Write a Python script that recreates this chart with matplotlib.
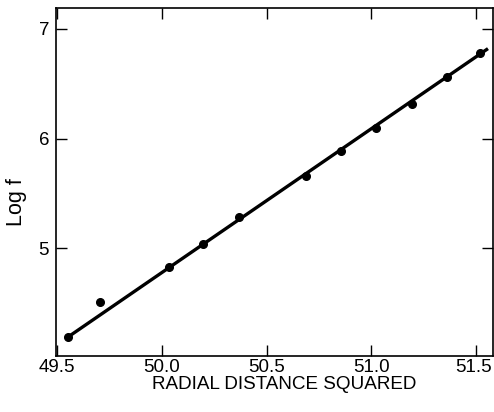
import matplotlib
matplotlib.use("Agg")
import matplotlib.pyplot as plt
from matplotlib.transforms import ScaledTranslation

# data
x_pts = [49.55, 49.705, 50.036, 50.198, 50.368, 50.687, 50.853, 51.024, 51.193, 51.359, 51.52]
y_pts = [4.19, 4.51, 4.83, 5.04, 5.29, 5.66, 5.89, 6.10, 6.32, 6.56, 6.78]
fit_x = [49.55, 51.556]
fit_y = [4.19, 6.82]
x_ticks = [49.5, 50.0, 50.5, 51.0, 51.5]
x_tick_labels = ["49.5", "50.0", "50.5", "51.0", "51.5"]
y_ticks = [5, 6, 7]
y_tick_labels = ["5", "6", "7"]

plt.rcParams['font.family'] = ['Liberation Sans', 'DejaVu Sans']

fig = plt.figure(figsize=(4.94, 4.12), dpi=100)
ax = fig.add_axes([56/494, 1 - 356/412, (493 - 56)/494, (356 - 8)/412])

ax.plot(fit_x, fit_y, color='black', linewidth=2.4, solid_capstyle='butt')
ax.plot(x_pts, y_pts, 'o', color='black', markersize=5.5)

ax.set_xlim(49.495, 51.58)
ax.set_ylim(4.02, 7.19)
ax.set_xticks(x_ticks)
ax.set_xticklabels(x_tick_labels)
ax.set_yticks(y_ticks)
ax.set_yticklabels(y_tick_labels)

ax.tick_params(direction='in', length=8, width=1, labelsize=13.5,
               top=True, right=True, pad=2)
ax.tick_params(axis='y', pad=5)
for s in ax.spines.values():
    s.set_linewidth(1.2)

last = ax.get_xticklabels()[-1]
last.set_transform(last.get_transform() + ScaledTranslation(-3/100, 0, fig.dpi_scale_trans))

ax.set_xlabel("RADIAL DISTANCE SQUARED", fontsize=13.6, labelpad=0)
ax.xaxis.set_label_coords((284 - 56) / (493 - 56), -0.058)
ax.xaxis.label.set_verticalalignment('top')
ax.set_ylabel("Log f", fontsize=15.5)
ax.yaxis.set_label_coords((16 - 56) / (493 - 56), 1 - (202 - 8) / (356 - 8))
ax.yaxis.label.set_verticalalignment('center')

fig.savefig("out.png", dpi=100)
